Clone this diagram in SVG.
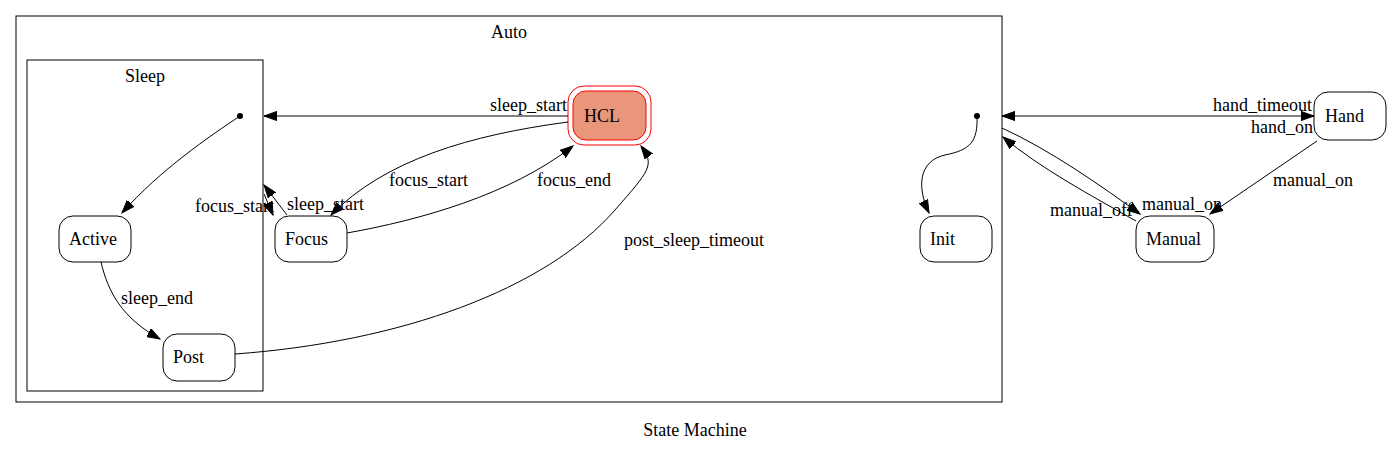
<svg xmlns="http://www.w3.org/2000/svg" width="1392" height="451" viewBox="0 0 1392 451">
<defs>
<marker id="ah" markerWidth="14" markerHeight="10" refX="13" refY="5" orient="auto" markerUnits="userSpaceOnUse">
<path d="M0,0.4 L13,5 L0,9.6 z" fill="#000" stroke="#000" stroke-width="1"/>
</marker>
<marker id="as" markerWidth="14" markerHeight="10" refX="1" refY="5" orient="auto" markerUnits="userSpaceOnUse">
<path d="M14,0.4 L1,5 L14,9.6 z" fill="#000" stroke="#000" stroke-width="1"/>
</marker>
<style>
.cl{fill:none;stroke:#000;stroke-width:1}
.st{fill:#fff;stroke:#000;stroke-width:1}
.e{fill:none;stroke:#000;stroke-width:1;marker-end:url(#ah)}
.mid{text-anchor:middle}
.t{font-family:'Liberation Serif','Times New Roman','DejaVu Serif',serif;font-size:18px}
</style>
</defs>
<rect width="1392" height="451" fill="#fff"/>
<g class="t" fill="#000">
<g id="cluster_auto">
<rect class="cl" x="16" y="16" width="986" height="386"/>
<text class="mid" x="509" y="38">Auto</text>
</g>
<g id="cluster_sleep">
<rect class="cl" x="27" y="60" width="236" height="331"/>
<text class="mid" x="145" y="82">Sleep</text>
</g>
<g id="sleep_init"><circle cx="240" cy="116" r="3" fill="#000"/></g>
<g id="auto_init"><circle cx="977" cy="116" r="3" fill="#000"/></g>
<g id="Active"><rect class="st" x="59" y="216" width="72" height="46" rx="14"/><text x="69" y="245">Active</text></g>
<g id="Post"><rect class="st" x="163" y="334" width="72" height="47" rx="14"/><text x="173" y="363">Post</text></g>
<g id="Focus"><rect class="st" x="275" y="216" width="72" height="46" rx="14"/><text x="285" y="245">Focus</text></g>
<g id="HCL">
<rect x="568" y="86" width="83" height="59" rx="16" fill="none" stroke="#ff0000"/>
<rect x="573" y="91" width="73" height="49" rx="13" fill="#e9967a" stroke="#ff0000"/>
<text x="584" y="122">HCL</text>
</g>
<g id="Init"><rect class="st" x="920" y="216" width="72" height="46" rx="14"/><text x="930" y="245">Init</text></g>
<g id="Hand"><rect class="st" x="1314" y="92" width="72" height="48" rx="14"/><text x="1325" y="122">Hand</text></g>
<g id="Manual"><rect class="st" x="1136" y="216" width="78" height="46" rx="14"/><text x="1146" y="245">Manual</text></g>
<g id="edges">
<path class="e" d="M240,116 C210,136 160,170 122,213"/>
<path class="e" d="M101,262 C108,292 122,318 160,339"/>
<text x="121" y="304">sleep_end</text>
<path class="e" d="M568,116 L264,116"/>
<text x="490" y="111">sleep_start</text>
<path class="e" d="M568,122 C470,135 385,160 331,215"/>
<text x="389" y="186">focus_start</text>
<path class="e" d="M347,233 C420,220 510,195 573,146"/>
<text x="537" y="186">focus_end</text>
<path class="e" d="M287,215 L264,185"/>
<text x="287" y="210">sleep_start</text>
<path class="e" d="M264,194 L273,215"/>
<text x="195" y="212">focus_start</text>
<path class="e" d="M235,354 C400,342 545,290 615,210 C650,170 655,165 641,146"/>
<text x="624" y="246">post_sleep_timeout</text>
<path class="e" d="M977,116 C978,142 970,150 945,155 C918,161 917,188 929,213"/>
<path class="e" style="marker-start:url(#as)" d="M1002,116 L1314,116"/>
<text x="1213" y="111">hand_timeout</text>
<text x="1251" y="133">hand_on</text>
<path class="e" d="M1002,128 C1050,150 1100,185 1140,214"/>
<text x="1142" y="210">manual_on</text>
<path class="e" d="M1136,221 C1090,195 1040,168 1003,137"/>
<text x="1050" y="216">manual_off</text>
<path class="e" d="M1317,141 L1210,214"/>
<text x="1273" y="186">manual_on</text>
</g>
<text class="mid" x="695" y="436">State Machine</text>
</g>
</svg>
